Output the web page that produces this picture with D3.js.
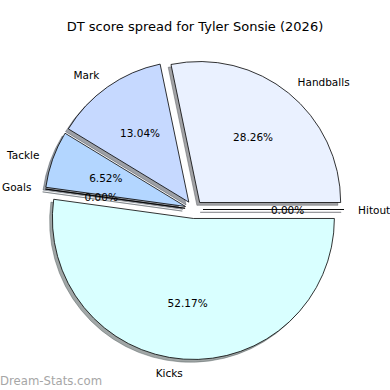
<!DOCTYPE html>
<html>
<head>
<meta charset="utf-8">
<script src="https://cdn.jsdelivr.net/npm/d3@7"></script>
<style>
  body { margin: 0; background: #fff; }
  svg text { font-family: 'DejaVu Sans', sans-serif; }
</style>
</head>
<body>
<svg id="chart"></svg>
<script>
// slices in matplotlib order (counter-clockwise from 3 o'clock)
const categories = ['Hitout', 'Handballs', 'Mark', 'Tackle', 'Goals', 'Kicks']
const values = [0, 26, 12, 6, 0, 48]
const colors = ['#e0ecff', '#eaf1ff', '#c6d9ff', '#b3d6ff', '#c8e6ff', '#d9ffff']
const title = 'DT score spread for Tyler Sonsie (2026)'

const width = 390, height = 390
const cx = 194, cy = 209.5
const radius = 141
const explode = 9
const shadowOff = 2.8

const svg = d3.select('#chart').attr('width', width).attr('height', height)

svg.append('text')
  .attr('x', 195).attr('y', 26)
  .attr('text-anchor', 'middle')
  .attr('dominant-baseline', 'central')
  .attr('font-size', '13px')
  .attr('fill', '#000')
  .text(title)

const data = categories.map((c, i) => ({ name: c, value: values[i], color: colors[i] }))
const total = d3.sum(values)

// counter-clockwise from 3 o'clock, like matplotlib
const pie = d3.pie().value(d => d.value).sort(null)
  .startAngle(Math.PI / 2).endAngle(Math.PI / 2 - 2 * Math.PI)
const arcs = pie(data)
const arc = d3.arc().innerRadius(0).outerRadius(radius)

function offset (d, r) {
  const m = (d.startAngle + d.endAngle) / 2
  return [Math.sin(m) * r, -Math.cos(m) * r]
}

const g = svg.append('g').attr('transform', `translate(${cx},${cy})`)

// shadows first
const shade = d => {
  const c = d3.rgb(d.data.color)
  return d3.rgb(c.r * 0.3, c.g * 0.3, c.b * 0.3).toString()
}
g.selectAll('path.shadow').data(arcs).enter().append('path')
  .attr('class', 'shadow')
  .attr('d', arc)
  .attr('transform', d => {
    const o = offset(d, explode)
    return `translate(${o[0] - shadowOff},${o[1] + shadowOff})`
  })
  .attr('fill', shade)
  .attr('fill-opacity', 0.5)
  .attr('stroke', shade)
  .attr('stroke-opacity', 0.5)
  .attr('stroke-width', 0.8)

const slices = g.selectAll('g.slice').data(arcs).enter().append('g')
  .attr('class', 'slice')
  .attr('transform', d => {
    const o = offset(d, explode)
    return `translate(${o[0]},${o[1]})`
  })

slices.append('path')
  .attr('d', arc)
  .attr('fill', d => d.data.color)
  .attr('stroke', '#000')
  .attr('stroke-width', 0.8)
  .attr('stroke-linejoin', 'miter')

slices.append('text')
  .attr('x', d => offset(d, radius * 1.1)[0])
  .attr('y', d => offset(d, radius * 1.1)[1])
  .attr('text-anchor', d => offset(d, 1)[0] > 0 ? 'start' : 'end')
  .attr('dominant-baseline', 'central')
  .attr('font-size', '10.5px')
  .text(d => d.data.name)

slices.append('text')
  .attr('x', d => offset(d, radius * 0.6)[0])
  .attr('y', d => offset(d, radius * 0.6)[1])
  .attr('text-anchor', 'middle')
  .attr('dominant-baseline', 'central')
  .attr('font-size', '10.5px')
  .text(d => (d.value / total * 100).toFixed(2) + '%')

svg.append('text')
  .attr('x', 0).attr('y', 385)
  .attr('font-size', '11.7px')
  .attr('fill', '#a6a6a6')
  .text('Dream-Stats.com')
</script>
</body>
</html>
